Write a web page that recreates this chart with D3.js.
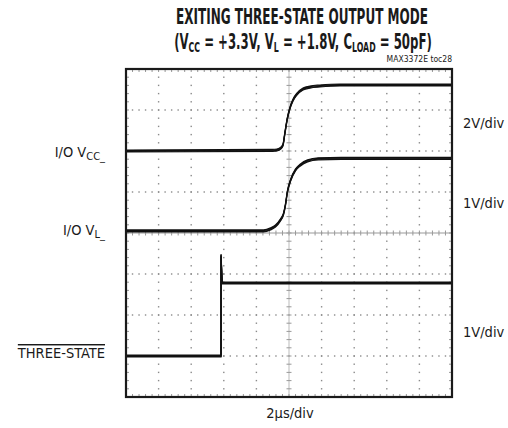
<!DOCTYPE html>
<html><head><meta charset="utf-8">
<script src="https://cdn.jsdelivr.net/npm/d3@7"></script>
<style>
html,body{margin:0;padding:0;background:#fff;}
svg{display:block;}
text{font-family:"Liberation Sans Narrow","DejaVu Sans Condensed","Roboto Condensed",sans-serif;fill:#1a1a1a;}
</style></head>
<body><svg id="c" width="508" height="428"></svg>
<script>
// ---- data ----
const titleLine1 = "EXITING THREE-STATE OUTPUT MODE";
const titleLine2Parts = [["(V", 0], ["CC", 1], [" = +3.3V, V", 0], ["L", 1], [" = +1.8V, C", 0], ["LOAD", 1], [" = 50pF)", 0]];
const creditText = "MAX3372E toc28";
const timeLabel = "2\u00b5s/div";
const channelNames = ["I/O VCC_", "I/O VL_", "THREE-STATE"];
const channelScales = [2, 1, 1];          // V/div
const channelScaleLabels = ["2V/div", "1V/div", "1V/div"];
const channelOffsets = [2.0, 0.05, -3.0];  // ground level, in divisions from centre
// time in µs (10 divisions x 2 µs)
const vccTime  = [0, 9.0, 9.26, 9.51, 9.63, 9.75, 9.88, 10.06, 10.25, 10.49, 10.86, 11.29, 11.9, 13.13, 20];
const vccVolts = [0, 0.03, 0.05, 0.15, 0.29, 0.88, 1.51, 2.1, 2.49, 2.78, 3.02, 3.12, 3.17, 3.22, 3.22];
const vlTime   = [0, 8.44, 8.87, 9.17, 9.48, 9.66, 9.78, 9.9, 10.1, 10.4, 10.7, 11.14, 11.8, 13.2, 20];
const vlVolts  = [0, 0, 0.05, 0.12, 0.27, 0.41, 0.63, 0.95, 1.24, 1.49, 1.61, 1.71, 1.76, 1.77, 1.77];
const tsTime   = [0, 5.83, 5.83, 5.9, 20];
const tsVolts  = [0, 0, 2.46, 1.78, 1.78];
const xDivs = 10, yDivs = 8, minorPerDiv = 5;

// ---- layout ----
const svg = d3.select("#c");
const L = 126, R = 452, T = 69, B = 397;
const x = d3.scaleLinear().domain([0, 20]).range([L, R]);
const y = d3.scaleLinear().domain([-4, 4]).range([B, T]);
const xDiv = d3.scaleLinear().domain([0, xDivs]).range([L, R]);

// grid dots
const grid = svg.append("g").attr("fill", "#8a8a8a");
const xMinor = d3.range(0, xDivs * minorPerDiv + 1).map(i => i / minorPerDiv);
const yMinor = d3.range(0, yDivs * minorPerDiv + 1).map(i => -4 + i / minorPerDiv);
d3.range(-3, 4).filter(v => v !== 0).forEach(v => {
  grid.selectAll(null).data(xMinor).join("rect")
    .attr("x", d => xDiv(d) - 0.7).attr("y", y(v) - 0.7).attr("width", 1.4).attr("height", 1.4);
});
d3.range(1, xDivs).filter(v => v !== 5).forEach(v => {
  grid.selectAll(null).data(yMinor).join("rect")
    .attr("x", xDiv(v) - 0.7).attr("y", d => y(d) - 0.7).attr("width", 1.4).attr("height", 1.4);
});
// centre axes with ticks
const ax = svg.append("g").attr("stroke", "#999").attr("stroke-width", 1);
ax.append("line").attr("x1", L).attr("x2", R).attr("y1", y(0)).attr("y2", y(0));
ax.append("line").attr("x1", xDiv(5)).attr("x2", xDiv(5)).attr("y1", T).attr("y2", B).attr("stroke", "#bbb");
ax.selectAll(null).data(xMinor).join("line")
  .attr("x1", d => xDiv(d)).attr("x2", d => xDiv(d))
  .attr("y1", y(0) - 2.5).attr("y2", y(0) + 2.5);
ax.selectAll(null).data(yMinor).join("line")
  .attr("x1", xDiv(5) - 2.5).attr("x2", xDiv(5) + 2.5)
  .attr("y1", d => y(d)).attr("y2", d => y(d));
// border ticks
ax.selectAll(null).data(xMinor).join("line")
  .attr("x1", d => xDiv(d)).attr("x2", d => xDiv(d)).attr("y1", T).attr("y2", T + 3);
ax.selectAll(null).data(xMinor).join("line")
  .attr("x1", d => xDiv(d)).attr("x2", d => xDiv(d)).attr("y1", B).attr("y2", B - 3);
ax.selectAll(null).data(yMinor).join("line")
  .attr("x1", L).attr("x2", L + 3).attr("y1", d => y(d)).attr("y2", d => y(d));
ax.selectAll(null).data(yMinor).join("line")
  .attr("x1", R).attr("x2", R - 3).attr("y1", d => y(d)).attr("y2", d => y(d));

// traces
const series = [
  {t: vccTime, v: vccVolts, ch: 0},
  {t: vlTime, v: vlVolts, ch: 1},
  {t: tsTime, v: tsVolts, ch: 2}
];
const tr = svg.append("g");
series.forEach(s => {
  const pts = s.t.map((t, i) => [t, s.v[i]]);
  const line = d3.line()
    .x(d => x(d[0]))
    .y(d => y(channelOffsets[s.ch] + d[1] / channelScales[s.ch]))
    .curve(s.ch === 2 ? d3.curveLinear : d3.curveMonotoneX);
  [-1.0, -0.35, 0.35, 1.0].forEach(dy => {
    tr.append("path").attr("d", line(pts)).attr("fill", "none")
      .attr("stroke", "#111").attr("stroke-width", 1.2)
      .attr("transform", `translate(0,${dy})`);
  });
});

// frame
svg.append("rect").attr("x", L).attr("y", T).attr("width", R - L).attr("height", B - T)
  .attr("fill", "none").attr("stroke", "#1a1a1a").attr("stroke-width", 2.2);

// titles (scaled horizontally to fit the reference widths)
function fitText(sel, cx, width) {
  const w = sel.node().getBBox().width;
  const k = width / w;
  sel.attr("transform", `translate(${cx},0) scale(${k},1) translate(${-cx},0)`);
}
const t1 = svg.append("text").attr("x", 302).attr("y", 24).attr("text-anchor", "middle")
  .attr("font-weight", "bold").attr("font-size", 21).text(titleLine1);
fitText(t1, 302, 252);
const t2 = svg.append("text").attr("x", 303).attr("y", 49).attr("text-anchor", "middle")
  .attr("font-weight", "bold").attr("font-size", 21);
let prevSub = 0;
titleLine2Parts.forEach(([s, sub]) => {
  t2.append("tspan").attr("font-size", sub ? 14 : 21)
    .attr("dy", sub ? 3 : (prevSub ? -3 : 0)).text(s);
  prevSub = sub;
});
fitText(t2, 303, 258);
svg.append("text").attr("x", 452).attr("y", 62).attr("text-anchor", "end")
  .attr("font-size", 8.5).attr("fill", "#333").text(creditText);

// channel labels (left)
const labelY = [157, 235, 358];
const lab = svg.append("g").attr("font-size", 14.5).attr("text-anchor", "end");
const l0 = lab.append("text").attr("x", 105).attr("y", labelY[0]);
l0.append("tspan").text("I/O V");
l0.append("tspan").attr("font-size", 11).attr("dy", 3).text("CC_");
const l1 = lab.append("text").attr("x", 105).attr("y", labelY[1]);
l1.append("tspan").text("I/O V");
l1.append("tspan").attr("font-size", 11).attr("dy", 3).text("L_");
lab.append("text").attr("x", 105).attr("y", labelY[2])
  .attr("text-decoration", "overline").text(channelNames[2]);

// scale labels (right)
const scaleY = [128, 208, 337];
svg.append("g").attr("font-size", 14.5).selectAll("text").data(channelScaleLabels).join("text")
  .attr("x", 463).attr("y", (d, i) => scaleY[i]).text(d => d);

svg.append("text").attr("x", 290).attr("y", 418).attr("text-anchor", "middle")
  .attr("font-size", 14.5).text(timeLabel);
</script></body></html>
